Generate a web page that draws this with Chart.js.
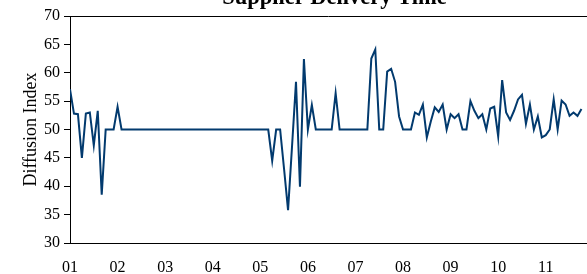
<!DOCTYPE html>
<html>
<head>
<meta charset="utf-8">
<script src="https://cdn.jsdelivr.net/npm/chart.js@4"></script>
<style>
  html, body { margin: 0; padding: 0; background: #fff; }
</style>
</head>
<body>
<canvas id="lineChart" width="587" height="274"></canvas>
<script>
// monthly diffusion index, one array per year (2011 stops at October)
const y2001 = [57.1, 52.8, 52.7, 45, 52.8, 53, 47.2, 53.3, 38.5, 50, 50, 50];
const y2002 = [54, 50, 50, 50, 50, 50, 50, 50, 50, 50, 50, 50];
const y2003 = [50, 50, 50, 50, 50, 50, 50, 50, 50, 50, 50, 50];
const y2004 = [50, 50, 50, 50, 50, 50, 50, 50, 50, 50, 50, 50];
const y2005 = [50, 50, 50, 44.5, 50, 50, 43, 35.8, 47, 58.4, 39.9, 62.4];
const y2006 = [50, 54.3, 50, 50, 50, 50, 50, 56.4, 50, 50, 50, 50];
const y2007 = [50, 50, 50, 50, 62.5, 64.1, 50, 50, 60.2, 60.7, 58.4, 52.3];
const y2008 = [50, 50, 50, 53, 52.6, 54.4, 48.6, 51.4, 53.9, 53.1, 54.4, 50];
const y2009 = [52.7, 52, 52.7, 50, 50, 55, 53.3, 52, 52.7, 50, 53.7, 54];
const y2010 = [48.8, 58.7, 53, 51.7, 53.3, 55.3, 56.1, 51, 54.4, 50, 52.3, 48.6];
const y2011 = [49, 50, 55.3, 50, 55.1, 54.4, 52.4, 53, 52.4, 53.6];

const yearLabels = ['01', '02', '03', '04', '05', '06', '07', '08', '09', '10', '11'];
const yTicks = [30, 35, 40, 45, 50, 55, 60, 65, 70];

const values = [].concat(y2001, y2002, y2003, y2004, y2005, y2006, y2007, y2008, y2009, y2010, y2011);
const points = values.map((v, i) => ({ x: i, y: v }));

const serif = 'Liberation Serif';

// top frame line + the title that sits half off the top edge
const frameTop = {
    id: 'frameTop',
    afterDraw(chart) {
        const { ctx, chartArea: a } = chart;
        ctx.save();
        ctx.strokeStyle = '#000';
        ctx.lineWidth = 1;
        ctx.beginPath();
        ctx.moveTo(a.left, a.top + 0.5);
        ctx.lineTo(a.right, a.top + 0.5);
        ctx.stroke();
        ctx.font = 'bold 22.5px "' + serif + '"';
        ctx.textAlign = 'center';
        ctx.textBaseline = 'alphabetic';
        ctx.fillStyle = '#000';
        ctx.fillText('Supplier Delivery Time', (a.left + a.right) / 2 + 6, 3.5);
        ctx.restore();
    }
};

const CHART = document.getElementById('lineChart');
let line_Chart = new Chart(CHART, {
    type: 'line',
    data: {
        datasets: [{
            label: 'Supplier Delivery Time',
            data: points,
            borderColor: '#023a6e',
            borderWidth: 2,
            pointRadius: 0,
            tension: 0,
            fill: false
        }]
    },
    options: {
        responsive: false,
        animation: false,
        layout: { padding: { top: 16, left: 0, right: 0, bottom: 0 } },
        plugins: {
            legend: { display: false },
            tooltip: { enabled: false }
        },
        scales: {
            x: {
                type: 'linear',
                min: 0,
                max: 130.4,
                afterBuildTicks: s => { s.ticks = yearLabels.map((l, k) => ({ value: k * 12 })); },
                afterFit: s => { s.height = 31; },
                grid: { display: false, drawTicks: false },
                border: { display: true, color: '#000', width: 1 },
                ticks: {
                    callback: (v, i) => yearLabels[i],
                    autoSkip: false,
                    maxRotation: 0,
                    padding: 15,
                    color: '#000',
                    font: { family: serif, size: 16 }
                }
            },
            y: {
                min: 30,
                max: 70,
                afterBuildTicks: s => { s.ticks = yTicks.map(v => ({ value: v })); },
                afterFit: s => { s.width = 70; },
                grid: { drawOnChartArea: false, drawTicks: true, tickLength: 6, tickColor: '#000' },
                border: { color: '#000', width: 1 },
                ticks: {
                    padding: 4,
                    color: '#000',
                    font: { family: serif, size: 16 }
                },
                title: {
                    display: true,
                    text: 'Diffusion Index',
                    color: '#000',
                    font: { family: serif, size: 18 },
                    padding: { top: 20, bottom: 0 }
                }
            }
        }
    },
    plugins: [frameTop]
});
</script>
</body>
</html>
